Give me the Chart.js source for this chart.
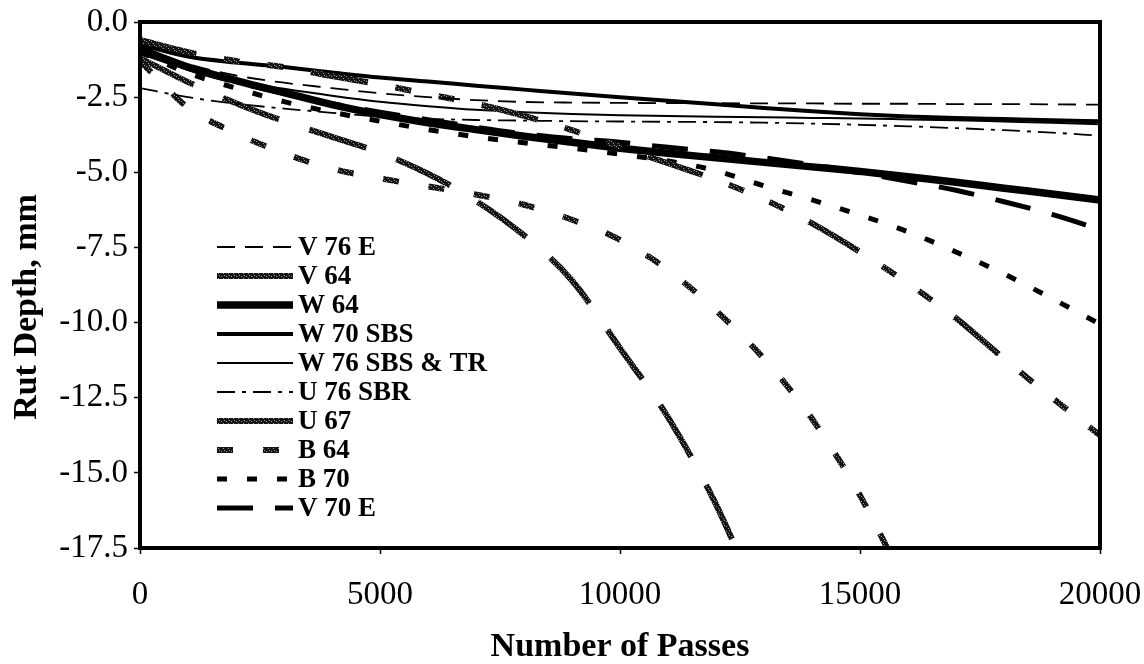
<!DOCTYPE html>
<html>
<head>
<meta charset="utf-8">
<title>Rut Depth vs Number of Passes</title>
<script src="https://cdn.jsdelivr.net/npm/chart.js@4.4.1/dist/chart.umd.min.js"></script>
<style>
  html, body { margin: 0; padding: 0; background: #fff; }
  #wrap { width: 1144px; height: 664px; }
</style>
</head>
<body>
<div id="wrap"><canvas id="rutChart" width="1144" height="664"></canvas></div>
<script>
// passes and rut depth (mm) per mix
const passes = [0, 1000, 2000, 3000, 4000, 5000, 6000, 7000, 8000, 9000, 10000,
  11000, 12000, 13000, 14000, 15000, 16000, 17000, 18000, 19000, 20000];

const v76e   = [-0.8, -1.4, -1.78, -2.02, -2.2, -2.37, -2.5, -2.6, -2.66, -2.68, -2.69,
  -2.7, -2.7, -2.71, -2.71, -2.72, -2.72, -2.73, -2.73, -2.74, -2.75];
const v64    = [-0.6, -1.0, -1.3, -1.5, -1.8, -2.08, -2.4, -2.72, -3.12, -3.6, -4.15,
  -4.7, -5.25, -5.9, -6.7, -7.65, -8.7, -9.85, -11.2, -12.5, -13.75];
const w64    = [-0.9, -1.5, -1.95, -2.35, -2.75, -3.08, -3.35, -3.58, -3.8, -4.0, -4.2,
  -4.37, -4.52, -4.67, -4.82, -4.97, -5.15, -5.33, -5.53, -5.72, -5.92];
const w70sbs = [-0.75, -1.15, -1.35, -1.5, -1.68, -1.85, -1.98, -2.12, -2.25, -2.38, -2.5,
  -2.62, -2.74, -2.86, -2.97, -3.07, -3.14, -3.19, -3.23, -3.27, -3.3];
const w76tr  = [-0.9, -1.6, -1.95, -2.22, -2.45, -2.65, -2.8, -2.92, -3.0, -3.06, -3.1,
  -3.13, -3.15, -3.17, -3.19, -3.21, -3.24, -3.27, -3.31, -3.35, -3.4];
const u76sbr = [-2.2, -2.5, -2.72, -2.88, -3.02, -3.15, -3.22, -3.26, -3.28, -3.3, -3.31,
  -3.32, -3.33, -3.35, -3.38, -3.42, -3.47, -3.53, -3.6, -3.68, -3.78];
const u67    = [-1.2, -2.0, -2.7, -3.3, -3.82, -4.35, -5.05, -5.95, -7.1, -8.6, -10.85,
  -13.15, -16.05, -19.7, null, null, null, null, null, null, null];
const b64    = [-1.3, -2.85, -3.7, -4.37, -4.88, -5.2, -5.47, -5.74, -6.08, -6.58, -7.25,
  -8.25, -9.6, -11.2, -13.2, -15.75, -18.9, null, null, null, null];
const b70    = [-1.0, -1.7, -2.2, -2.65, -3.0, -3.3, -3.58, -3.82, -4.02, -4.2, -4.4,
  -4.62, -4.95, -5.45, -5.92, -6.42, -6.98, -7.65, -8.38, -9.2, -10.05];
const v70e   = [-1.0, -1.55, -2.0, -2.38, -2.72, -3.0, -3.25, -3.5, -3.72, -3.88, -4.0,
  -4.17, -4.32, -4.52, -4.75, -5.02, -5.3, -5.6, -5.98, -6.4, -6.9];

const xTicks = [0, 5000, 10000, 15000, 20000];
const yTicks = [0, -2.5, -5, -7.5, -10, -12.5, -15, -17.5];

const serif = "'Liberation Serif', 'Times New Roman', serif";
const canvas = document.getElementById("rutChart");
const ctx = canvas.getContext("2d");

// speckled grey stroke, like a halftone grey line
function grain() {
  const c = document.createElement("canvas");
  c.width = 5; c.height = 5;
  const g = c.getContext("2d");
  g.fillStyle = "#151515";
  g.fillRect(0, 0, 5, 5);
  g.fillStyle = "#9a9a9a";
  g.fillRect(1, 1, 1, 1);
  g.fillRect(3, 3, 1, 1);
  g.fillRect(4, 0, 1, 1);
  return ctx.createPattern(c, "repeat");
}
const grey = grain();

function pts(values) {
  return passes.map((p, i) => ({ x: p, y: values[i] })).filter(d => d.y !== null);
}

function line(label, values, style) {
  return Object.assign({
    label,
    data: pts(values),
    borderColor: "#000",
    borderWidth: 2,
    borderDash: [],
    pointRadius: 0,
    fill: false,
    cubicInterpolationMode: "monotone",
    clip: 0
  }, style);
}

const datasets = [
  line("V 76 E", v76e, { borderWidth: 1.8, borderDash: [18, 10] }),
  line("V 64", v64, { borderColor: grey, borderWidth: 6, borderDash: [58, 28, 16, 28, 16, 28], legendDash: [] }),
  line("W 64", w64, { borderWidth: 7.5 }),
  line("W 70 SBS", w70sbs, { borderWidth: 4 }),
  line("W 76 SBS & TR", w76tr, { borderWidth: 2 }),
  line("U 76 SBR", u76sbr, { borderWidth: 1.8, borderDash: [18, 7, 4, 7] }),
  line("U 67", u67, { borderColor: grey, borderWidth: 6, borderDash: [60, 32], legendDash: [] }),
  line("B 64", b64, { borderColor: grey, borderWidth: 6, borderDash: [16, 30] }),
  line("B 70", b70, { borderWidth: 5, borderDash: [10, 20] }),
  line("V 70 E", v70e, { borderWidth: 5, borderDash: [36, 22] })
];

// legend drawn inside the plot, lower left
const insideLegend = {
  id: "insideLegend",
  afterDatasetsDraw(chart) {
    const c = chart.ctx;
    const x = 217, w = 76, top = 247, step = 29;
    c.save();
    c.font = "bold 27px " + serif;
    c.textBaseline = "middle";
    c.textAlign = "left";
    chart.data.datasets.forEach((ds, i) => {
      const y = top + i * step;
      c.beginPath();
      c.strokeStyle = ds.borderColor;
      c.lineWidth = ds.borderWidth;
      c.setLineDash(ds.legendDash || ds.borderDash || []);
      c.moveTo(x, y);
      c.lineTo(x + w, y);
      c.stroke();
      c.setLineDash([]);
      c.fillStyle = "#000";
      c.fillText(ds.label, x + w + 5, y + 1);
    });
    c.restore();
  }
};

// heavy box round the plot area, plus the rotated y title
const plotFrame = {
  id: "plotFrame",
  afterDraw(chart) {
    const { left, top, right, bottom } = chart.chartArea;
    const c = chart.ctx;
    c.save();
    c.strokeStyle = "#000";
    c.lineWidth = 4;
    c.setLineDash([]);
    c.strokeRect(left, top, right - left, bottom - top);

    c.translate(27, 307);
    c.rotate(-Math.PI / 2);
    c.font = "bold 34px " + serif;
    c.fillStyle = "#000";
    c.textAlign = "center";
    c.textBaseline = "middle";
    c.fillText("Rut Depth, mm", 0, 0);
    c.restore();
  }
};

const tickFont = { family: serif, size: 33 };

new Chart(canvas, {
  type: "line",
  data: { datasets },
  options: {
    responsive: false,
    animation: false,
    devicePixelRatio: 1,
    layout: { padding: { top: 22, right: 44, left: 0, bottom: 0 } },
    plugins: { legend: { display: false }, tooltip: { enabled: false } },
    scales: {
      x: {
        type: "linear",
        min: 0,
        max: 20000,
        afterBuildTicks: s => { s.ticks = xTicks.map(v => ({ value: v })); },
        afterFit: s => { s.height = 116; s.paddingLeft = 0; s.paddingRight = 0; },
        ticks: { font: tickFont, color: "#000", padding: 22, maxRotation: 0, callback: v => String(v) },
        grid: { drawOnChartArea: false, tickLength: 6, tickColor: "#000", tickWidth: 1.5 },
        border: { display: false },
        title: {
          display: true, text: "Number of Passes", color: "#000",
          font: { family: serif, size: 34, weight: "bold", lineHeight: 1 },
          padding: { top: 0, bottom: 0 }
        }
      },
      y: {
        type: "linear",
        min: -17.5,
        max: 0,
        afterBuildTicks: s => { s.ticks = yTicks.map(v => ({ value: v })); },
        afterFit: s => { s.width = 140; s.paddingTop = 0; s.paddingBottom = 0; },
        ticks: { font: tickFont, color: "#000", padding: 6, callback: v => (Math.abs(v) < 1e-9 ? "0.0" : v.toFixed(1)) },
        grid: { drawOnChartArea: false, tickLength: 6, tickColor: "#000", tickWidth: 1.5 },
        border: { display: false }
      }
    }
  },
  plugins: [insideLegend, plotFrame]
});
</script>
</body>
</html>
